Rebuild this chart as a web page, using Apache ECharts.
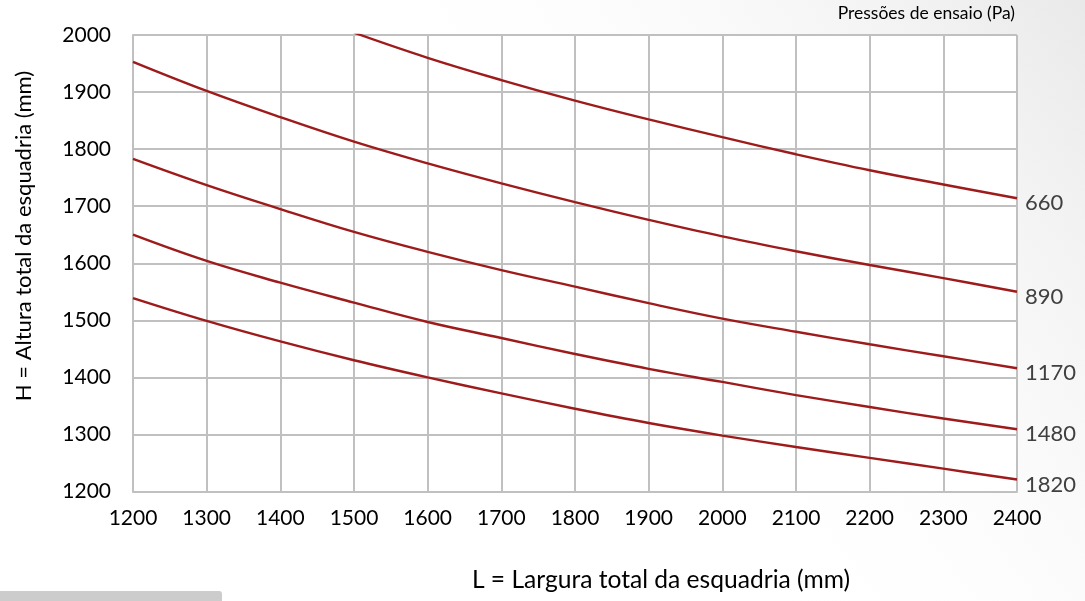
<!DOCTYPE html>
<html>
<head>
<meta charset="utf-8">
<script src="https://cdn.jsdelivr.net/npm/echarts@6/dist/echarts.min.js"></script>
<style>
html,body{margin:0;padding:0;background:#fff;}
#c{width:1085px;height:601px;}
</style>
</head>
<body>
<div id="c"></div>
<script>
var widths = [1200,1300,1400,1500,1600,1700,1800,1900,2000,2100,2200,2300,2400];
var seriesNames = ['660','890','1170','1480','1820'];
var h660  = [null,null,null,2004,1960,1921,1885,1852,1821,1791,1763,1738,1714];
var h890  = [1953,1902,1856,1813,1775,1740,1707,1676,1647,1621,1597,1574,1550];
var h1170 = [1783,1737,1695,1655,1620,1588,1559,1530,1503,1480,1458,1437,1416];
var h1480 = [1650,1604,1566,1531,1497,1469,1441,1415,1392,1369,1348,1328,1309];
var h1820 = [1539,1499,1463,1430,1400,1372,1345,1320,1298,1278,1259,1240,1221];
var allValues = [h660,h890,h1170,h1480,h1820];
var xTitle = 'L = Largura total da esquadria (mm)';
var yTitle = 'H = Altura total da esquadria (mm)';
var legendTitle = 'Pressões de ensaio (Pa)';

var FONT = 'Lato';
function pairs(vals){
  var out=[];
  for(var i=0;i<widths.length;i++){ if(vals[i]!==null) out.push([widths[i], vals[i]]); }
  return out;
}
var series = seriesNames.map(function(n,i){
  return {
    name:n, type:'line', smooth:0.4, showSymbol:false, symbol:'none',
    data:pairs(allValues[i]),
    lineStyle:{color:'#9e1b1b', width:2.4},
    itemStyle:{color:'#9e1b1b'},
    endLabel:{show:true, formatter:'{a}', color:'#404040', fontFamily:FONT, fontSize:22, distance:8, offset:[0,5]},
    clip:true, z:5
  };
});
function plain(v){ return String(v); }

var chart = echarts.init(document.getElementById('c'), null, {renderer:'canvas'});
chart.setOption({
  animation:false,
  backgroundColor:'#ffffff',
  grid:{left:133, right:68, top:35, bottom:109.5, show:true, backgroundColor:'#ffffff', borderWidth:0, containLabel:false},
  xAxis:{
    type:'value', min:1200, max:2400, interval:100,
    axisLine:{show:true, lineStyle:{color:'#c0c0c0', width:2}},
    axisTick:{show:false},
    axisLabel:{color:'#000', fontFamily:FONT, fontSize:21, margin:16, formatter:plain},
    splitLine:{show:true, lineStyle:{color:'#c0c0c0', width:2}}
  },
  yAxis:{
    type:'value', min:1200, max:2000, interval:100,
    axisLine:{show:true, lineStyle:{color:'#c0c0c0', width:2}},
    axisTick:{show:false},
    axisLabel:{color:'#000', fontFamily:FONT, fontSize:21, margin:22, formatter:plain},
    splitLine:{show:true, lineStyle:{color:'#c0c0c0', width:2}}
  },
  graphic:[
    {type:'rect', z:-10, silent:true, shape:{x:0,y:0,width:1085,height:601},
     style:{fill:new echarts.graphic.LinearGradient(1,0,0.55,0.6,[{offset:0,color:'#e9e9e9'},{offset:1,color:'rgba(255,255,255,0)'}])}},
    {type:'rect', z:-5, silent:true, shape:{x:0,y:591,width:222,height:12,r:[0,3,0,0]}, style:{fill:'#cccccc'}},
    {type:'text', right:70, top:4, style:{text:legendTitle, fill:'#000', fontSize:17.5, fontFamily:FONT}},
    {type:'text', x:661, y:580, style:{text:xTitle, fill:'#000', fontSize:24.6, fontFamily:FONT, align:'center', verticalAlign:'middle'}},
    {type:'text', x:24, y:236, rotation:Math.PI/2, style:{text:yTitle, fill:'#000', fontSize:22, fontFamily:FONT, align:'center', verticalAlign:'middle'}}
  ],
  series:series
});
</script>
</body>
</html>
